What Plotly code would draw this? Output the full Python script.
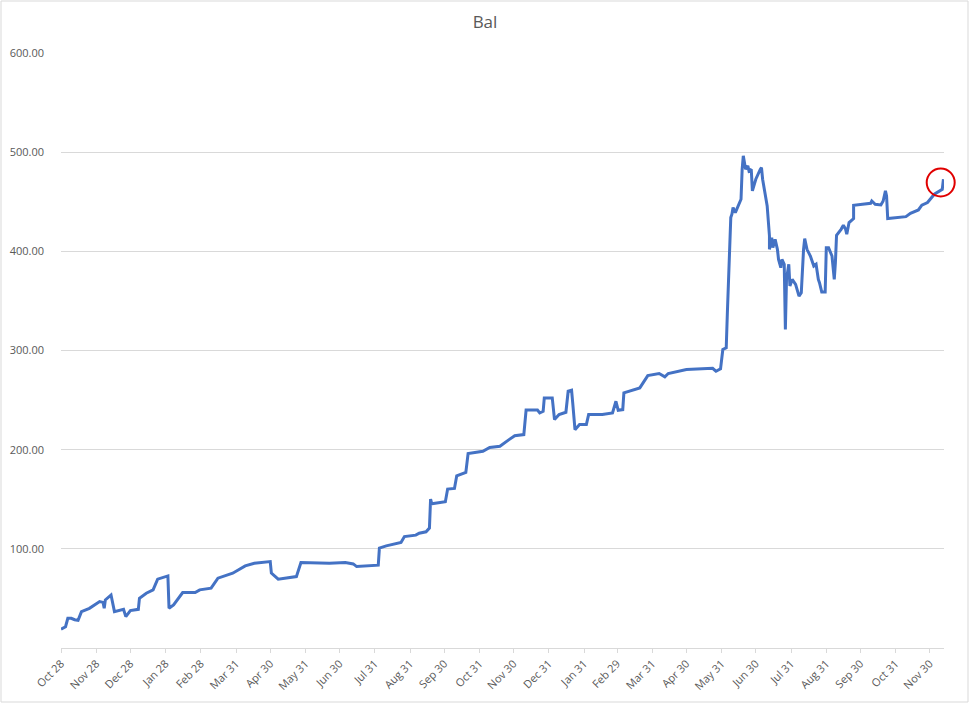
import plotly.graph_objects as go
import pandas as pd

START = "2018-10-28"

# days elapsed since START and balance values
day_offsets = [
    0, 4, 6, 9, 12, 15, 18, 25, 34, 37, 38, 39, 44, 47, 55, 57, 61, 68, 69, 75,
    81, 85, 94, 95, 99, 107, 118, 122, 132, 138, 151, 162, 170, 184, 185, 191,
    207, 211, 236, 250, 257, 260, 279, 280, 286, 299, 302, 312, 315, 321, 324,
    325, 326, 338, 340, 346, 348, 356, 358, 371, 377, 386, 394, 399, 407, 409,
    419, 421, 424, 425, 432, 434, 438, 444, 446, 449, 450, 452, 456, 462, 464,
    476, 485, 488, 490, 494, 495, 509, 516, 526, 531, 534, 550, 573, 576, 580,
    582, 585, 586, 587, 588, 589, 590, 591, 593, 598, 599, 600, 602, 604, 605,
    607, 608, 611, 615, 616, 617, 621, 623, 623, 625, 626, 628, 630, 631, 633,
    634, 636, 637, 638, 640, 641, 643, 646, 649, 651, 653, 654, 656, 659, 662,
    664, 666, 667, 669, 672, 673, 675, 678, 679, 680, 681, 682, 686, 688, 690,
    691, 693, 697, 697, 712, 713, 716, 721, 723, 725, 726, 727, 743, 747, 754,
    757, 762, 768, 775, 776,
]
balance = [
    18.9, 21.5, 30.0, 30.0, 28.5, 28.0, 36.7, 40.0, 46.8, 46.0, 40.0, 48.5, 53.5, 36.7, 39.0, 31.6, 37.7, 39.0, 50.2, 55.2,
    58.6, 69.4, 72.7, 40.1, 43.4, 55.9, 55.9, 58.6, 60.3, 70.4, 75.4, 82.8, 85.5, 87.2, 75.5, 69.4,
    72.0, 86.2, 85.5, 86.2, 84.8, 82.1, 83.5, 100.7, 103.0, 106.4, 112.4, 113.8, 115.8, 117.2, 120.9,
    150.2, 145.5, 147.5, 160.3, 160.9, 173.7, 177.1, 196.0, 198.3, 202.3, 203.4, 210.1, 214.1, 215.2, 240.0,
    240.0, 237.0, 238.7, 252.2, 252.2, 230.3, 235.4, 237.7, 258.9, 259.9, 247.2, 220.2, 225.3, 225.3, 235.4,
    235.4, 237.0, 248.8, 239.7, 240.4, 257.3, 262.3, 274.7, 276.8, 273.4, 276.8, 280.8, 282.1, 279.1, 281.5,
    301.0, 302.7, 338.0, 375.0, 413.8, 434.0, 437.4, 444.1, 439.0, 452.5, 482.8, 496.3, 482.8, 486.2, 481.1,
    482.8, 460.9, 472.7, 482.8, 484.5, 472.7, 445.8, 415.5, 402.0, 413.8, 403.7, 412.1, 402.0, 391.9, 383.5,
    391.9, 386.9, 321.2, 371.7, 386.9, 365.0, 371.7, 366.7, 354.9, 358.3, 402.0, 412.8, 402.0, 395.3, 385.2,
    386.9, 371.7, 368.4, 358.9, 358.9, 403.7, 403.7, 395.3, 385.2, 371.7, 388.6, 416.2, 422.2, 426.3, 422.2,
    417.2, 429.0, 433.0, 446.5, 448.5, 450.8, 447.5, 446.8, 450.8, 460.9, 455.9, 433.0, 435.0, 438.4, 441.7,
    446.5, 449.2, 457.6, 462.6, 472.7,
]

tick_dates = [
    "2018-10-28", "2018-11-28", "2018-12-28", "2019-01-28", "2019-02-28", "2019-03-31",
    "2019-04-30", "2019-05-31", "2019-06-30", "2019-07-31", "2019-08-31", "2019-09-30",
    "2019-10-31", "2019-11-30", "2019-12-31", "2020-01-31", "2020-02-29", "2020-03-31",
    "2020-04-30", "2020-05-31", "2020-06-30", "2020-07-31", "2020-08-31", "2020-09-30",
    "2020-10-31", "2020-11-30",
]
y_ticks = [100, 200, 300, 400, 500, 600]

# highlighted end point (circled in red)
highlight_day = 773.6
highlight_value = 469.4

start = pd.Timestamp(START)
dates = start + pd.to_timedelta(day_offsets, unit="D")
x_end = start + pd.Timedelta(days=776.5)
hl_date = start + pd.Timedelta(days=highlight_day)

fig = go.Figure()
fig.add_trace(go.Scatter(
    x=dates, y=balance, mode="lines",
    line=dict(color="#4472C4", width=3),
    showlegend=False, hoverinfo="skip",
))
fig.add_trace(go.Scatter(
    x=[hl_date], y=[highlight_value], mode="markers",
    marker=dict(symbol="circle-open", size=28, color="#E00000",
                line=dict(color="#E00000", width=2)),
    cliponaxis=False, showlegend=False, hoverinfo="skip",
))

fig.update_layout(
    width=970, height=704,
    margin=dict(l=61, r=26, t=53, b=56),
    paper_bgcolor="white", plot_bgcolor="white",
    font=dict(family="Open Sans, Liberation Sans, sans-serif", color="#595959", size=11),
    title=dict(text="Bal", x=0.5, xanchor="center", y=0.968, yanchor="middle",
               font=dict(size=17, color="#595959")),
)
fig.update_xaxes(
    type="date",
    range=[start, x_end],
    tickvals=pd.to_datetime(tick_dates),
    tickformat="%b %d",
    tickangle=-45,
    showgrid=False,
    showline=True, linecolor="#D9D9D9", linewidth=1,
    ticks="outside", ticklen=4, tickcolor="#D9D9D9",
    tickfont=dict(size=11, color="#595959"),
    zeroline=False, automargin=False,
)
fig.update_yaxes(
    range=[0, 600],
    tickvals=y_ticks,
    tickformat=".2f",
    showgrid=True, gridcolor="#D9D9D9", gridwidth=1,
    zeroline=False, showline=False,
    ticks="", ticklabelstandoff=16,
    tickfont=dict(size=11, color="#595959"),
    automargin=False,
)

# chart border
fig.add_shape(type="rect", xref="paper", yref="paper",
              x0=-60 / 883, x1=907 / 883, y0=-54 / 595, y1=647 / 595,
              line=dict(color="#D9D9D9", width=1), fillcolor="rgba(0,0,0,0)", layer="below")

fig.write_html(
    "out.html",
    config={"displayModeBar": False},
    post_script="document.body.style.margin='0';document.body.style.overflow='hidden';",
)
